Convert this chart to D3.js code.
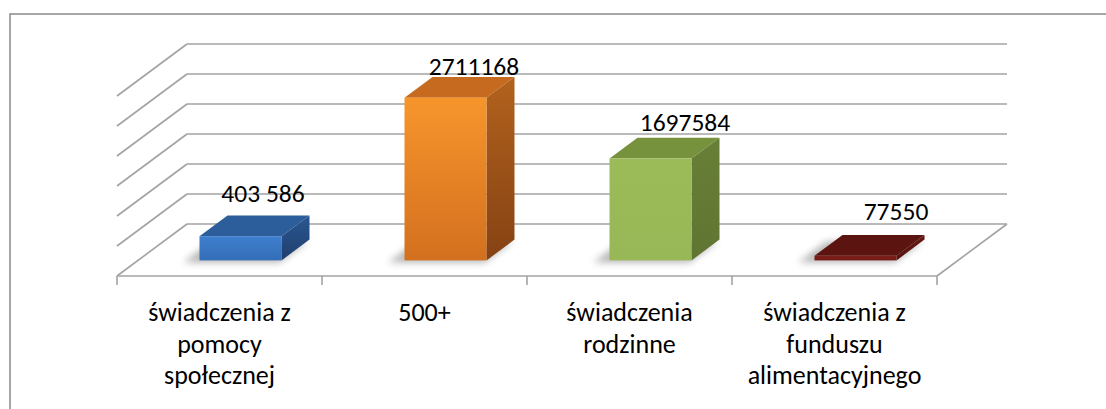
<!DOCTYPE html>
<html>
<head>
<meta charset="utf-8">
<script src="https://cdn.jsdelivr.net/npm/d3@7"></script>
<style>
  html, body { margin: 0; padding: 0; background: #fff; }
  svg { display: block; }
  text { font-family: Calibri, Carlito, Lato, sans-serif; fill: #000; }
</style>
</head>
<body>
<div id="chart"></div>
<script>
const categories = ["świadczenia z pomocy społecznej", "500+", "świadczenia rodzinne", "świadczenia z funduszu alimentacyjnego"];
const categoryLines = [
  ["świadczenia z", "pomocy", "społecznej"],
  ["500+"],
  ["świadczenia", "rodzinne"],
  ["świadczenia z", "funduszu", "alimentacyjnego"]
];
const values = [403586, 2711168, 1697584, 77550];
const valueLabels = ["403 586", "2711168", "1697584", "77550"];
const yTicks = [0, 500000, 1000000, 1500000, 2000000, 2500000, 3000000];

const colors = [
  {front: ["#3f7fcf", "#336db6"], top: "#2d5e9c", side: ["#2a5792", "#203f6d"]},
  {front: ["#f7952c", "#d3701f"], top: "#c66a1f", side: ["#b2621d", "#854213"]},
  {front: ["#9bbb59", "#98b857"], top: "#77923d", side: ["#687f37", "#5f7532"]},
  {front: ["#7d1e1a", "#721a16"], top: "#5c1411", side: ["#651713", "#571310"]}
];

const width = 1106, height = 409;
const floor = {x0: 117, x1: 937, y: 276, dx: 70, dy: -52};
const depthFront = 0.3, depthBack = 0.7;

const svg = d3.select("#chart").append("svg")
  .attr("width", width).attr("height", height);

const defs = svg.append("defs");
defs.append("filter").attr("id", "blur")
  .attr("x", "-20%").attr("y", "-50%").attr("width", "140%").attr("height", "200%")
  .append("feGaussianBlur").attr("stdDeviation", 3.5);

colors.forEach((c, i) => {
  const gf = defs.append("linearGradient").attr("id", "front" + i)
    .attr("x1", 0).attr("y1", 0).attr("x2", 0).attr("y2", 1);
  gf.append("stop").attr("offset", "0%").attr("stop-color", c.front[0]);
  gf.append("stop").attr("offset", "100%").attr("stop-color", c.front[1]);
  const gs = defs.append("linearGradient").attr("id", "side" + i)
    .attr("x1", 0).attr("y1", 0).attr("x2", 0).attr("y2", 1);
  gs.append("stop").attr("offset", "0%").attr("stop-color", c.side[0]);
  gs.append("stop").attr("offset", "100%").attr("stop-color", c.side[1]);
});

// outer frame
svg.append("rect")
  .attr("x", 10).attr("y", 14).attr("width", width).attr("height", height)
  .attr("fill", "none").attr("stroke", "#8a8a8a").attr("stroke-width", 1.5);

const xScale = d3.scaleBand()
  .domain(categories)
  .range([floor.x0, floor.x1])
  .paddingInner(0.6)
  .paddingOuter(0.3);

const yScale = d3.scaleLinear()
  .domain([0, 3000000])
  .range([0, 180]);

// project a point: front-plane x, depth t (0 front .. 1 back), value v
const P = (x, t, v) => [x + floor.dx * t, floor.y + floor.dy * t - yScale(v)];

const grid = svg.append("g")
  .attr("stroke", "#a3a3a3").attr("stroke-width", 1.6).attr("fill", "none");

yTicks.forEach(v => {
  grid.append("path").attr("d", d3.line()([P(floor.x0, 1, v), P(floor.x1, 1, v)]));
  grid.append("path").attr("d", d3.line()([P(floor.x0, 0, v), P(floor.x0, 1, v)]));
});
// floor front edge and right edge
grid.append("path").attr("d", d3.line()([P(floor.x0, 0, 0), P(floor.x1, 0, 0)]));
grid.append("path").attr("d", d3.line()([P(floor.x1, 0, 0), P(floor.x1, 1, 0)]));

// tick marks on category boundaries
const step = xScale.step();
d3.range(categories.length + 1).forEach(i => {
  const x = floor.x0 + i * step;
  grid.append("path").attr("d", d3.line()([[x, floor.y], [x, floor.y + 9]]));
});

// bars
const bars = svg.append("g");
categories.forEach((c, i) => {
  const xl = xScale(c), xr = xl + xScale.bandwidth(), v = values[i];
  const g = bars.append("g");
  // soft base shadow
  g.append("path")
    .attr("d", d3.line()([
      P(xl - 12, depthFront, 0), P(xr + 2, depthFront, 0),
      P(xr + 2, depthBack, 0), P(xl - 12, depthBack, 0)
    ].map(p => [p[0] - 4, p[1] + 2])) + "Z")
    .attr("fill", "#7a7a7a").attr("opacity", 0.55).attr("filter", "url(#blur)");
  // top face
  g.append("path")
    .attr("d", d3.line()([P(xl, depthFront, v), P(xr, depthFront, v), P(xr, depthBack, v), P(xl, depthBack, v)]) + "Z")
    .attr("fill", colors[i].top);
  // right side face
  g.append("path")
    .attr("d", d3.line()([P(xr, depthFront, v), P(xr, depthBack, v), P(xr, depthBack, 0), P(xr, depthFront, 0)]) + "Z")
    .attr("fill", `url(#side${i})`);
  // front face
  const ft = P(xl, depthFront, v), fb = P(xr, depthFront, 0);
  g.append("rect")
    .attr("x", ft[0]).attr("y", ft[1])
    .attr("width", fb[0] - ft[0]).attr("height", fb[1] - ft[1])
    .attr("fill", `url(#front${i})`);
});

// data labels
const labelX = d3.scalePoint().domain(categories).range([263, 896]);
const labelY = d3.scaleLinear().domain([0, 3000000]).range([224, 59]);
svg.append("g").selectAll("text")
  .data(categories)
  .join("text")
  .attr("x", d => labelX(d))
  .attr("y", (d, i) => labelY(values[i]))
  .attr("text-anchor", "middle")
  .attr("font-size", 25.5)
  .text((d, i) => valueLabels[i]);

// category labels
const catG = svg.append("g");
categories.forEach((c, i) => {
  const t = catG.append("text")
    .attr("x", floor.x0 + (i + 0.5) * step)
    .attr("y", 321)
    .attr("text-anchor", "middle")
    .attr("font-size", 26);
  categoryLines[i].forEach((line, j) => {
    t.append("tspan")
      .attr("x", floor.x0 + (i + 0.5) * step)
      .attr("dy", j === 0 ? 0 : 31.5)
      .text(line);
  });
});
</script>
</body>
</html>
